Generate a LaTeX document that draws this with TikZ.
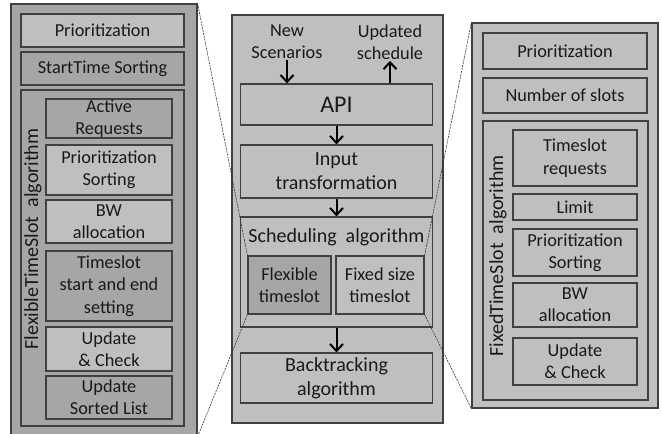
\documentclass[tikz,border=0pt]{standalone}
\usepackage{fontspec}
\setmainfont{Carlito}
\usepackage{tikz}
\usetikzlibrary{arrows.meta,positioning,calc}

\definecolor{boxlight}{RGB}{191,191,191}
\definecolor{boxdark}{RGB}{166,166,166}
\definecolor{edgegray}{RGB}{64,64,64}

\begin{document}
\begin{tikzpicture}[x=1pt,y=-1pt,
    box/.style={rectangle,draw=edgegray,line width=1.2pt,inner sep=0pt,align=center,text=black!90,font=\fontsize{18.3}{22.3}\selectfont},
    light/.style={box,fill=boxlight},
    dark/.style={box,fill=boxdark},
    wh/.style 2 args={minimum width=#1,minimum height=#2},
    mid/.style={font=\fontsize{20}{24}\selectfont},
    lbl/.style={inner sep=1pt,align=center,text=black!90,font=\fontsize{18.3}{22.3}\selectfont},
    flow/.style={-{Straight Barb[length=7pt,width=13pt,line width=2pt]},line width=2pt,black},
    zoomline/.style={dashed,dash pattern=on 2pt off 1pt,line width=0.6pt,black!80}]
    \useasboundingbox (0,0) rectangle (662,434);

    % left panel: flexible timeslot
    \node[dark,wh={186}{432}] (lpanel) at (104,220) {};
    \node[light,wh={163}{33}] (lprio) at (102.5,30.5) {Prioritization};
    \node[dark,wh={163}{33}] (lsort) at (102.5,68.5) {StartTime Sorting};
    \node[dark,wh={163}{336}] (lalgo) at (102.5,258) {};
    \node[dark,wh={126}{39}] (lactive) at (109,118.5) {Active\\Requests};
    \node[light,wh={126}{50}] (lpsort) at (109,170) {Prioritization\\Sorting};
    \node[light,wh={126}{43}] (lbw) at (109,221.5) {BW\\allocation};
    \node[dark,wh={126}{70}] (ltsset) at (109,286) {Timeslot\\start and end\\setting};
    \node[light,wh={126}{44}] (lupd) at (109,349) {Update\\\& Check};
    \node[dark,wh={126}{43}] (lupsort) at (109,397.5) {Update\\Sorted List};
    \node[lbl,mid,rotate=90] (llabel) at (33,239) {FlexibleTimeSlot~~algorithm};

    % middle panel: overall flow
    \node[light,wh={211}{408}] (mpanel) at (337.5,219) {};
    \node[lbl] (newsc) at (287,42) {New\\Scenarios};
    \node[lbl] (upd) at (390,42) {Updated\\schedule};
    \node[light,wh={192}{41},font=\fontsize{24}{28}\selectfont] (api) at (336.5,104.5) {API};
    \node[light,mid,wh={192}{53}] (input) at (336.5,171.5) {Input\\transformation};
    \node[light,wh={192}{110}] (sched) at (336.5,272) {};
    \node[lbl,mid] (schedlbl) at (336.5,237) {Scheduling~~algorithm};
    \node[dark,wh={83}{58}] (flex) at (289.5,285) {Flexible\\timeslot};
    \node[light,wh={88}{58}] (fixed) at (380,285) {Fixed size\\timeslot};
    \node[light,mid,wh={192}{50}] (back) at (336.5,378) {Backtracking\\algorithm};

    % right panel: fixed size timeslot
    \node[light,wh={186}{385}] (rpanel) at (565,215.5) {};
    \node[light,wh={164}{36}] (rprio) at (565,51) {Prioritization};
    \node[light,wh={164}{35}] (nslots) at (565,95.5) {Number of slots};
    \node[light,wh={165}{279}] (ralgo) at (565.5,260.5) {};
    \node[light,wh={124}{56}] (tsreq) at (575,158) {Timeslot\\requests};
    \node[light,wh={124}{26}] (limit) at (575,207) {Limit};
    \node[light,wh={124}{47}] (rpsort) at (575,252.5) {Prioritization\\Sorting};
    \node[light,wh={124}{44}] (rbw) at (575,305) {BW\\allocation};
    \node[light,wh={124}{47}] (rupd) at (575,361.5) {Update\\\& Check};
    \node[lbl,mid,rotate=90] (rlabel) at (498,256) {FixedTimeSlot~~algorithm};

    \draw[flow] (newsc.south) -- (newsc.south |- api.north);
    \draw[flow] (api.north -| upd.south) -- (upd.south);
    \draw[flow] (api) -- (input);
    \draw[flow] (input) -- (sched);
    \draw[flow] (sched) -- (back);

    \draw[zoomline] (lpanel.north east) -- (flex.north west);
    \draw[zoomline] (lpanel.south east) -- (flex.south west);
    \draw[zoomline] (fixed.north east) -- (rpanel.north west);
    \draw[zoomline] (fixed.south east) -- (rpanel.south west);
\end{tikzpicture}
\end{document}
